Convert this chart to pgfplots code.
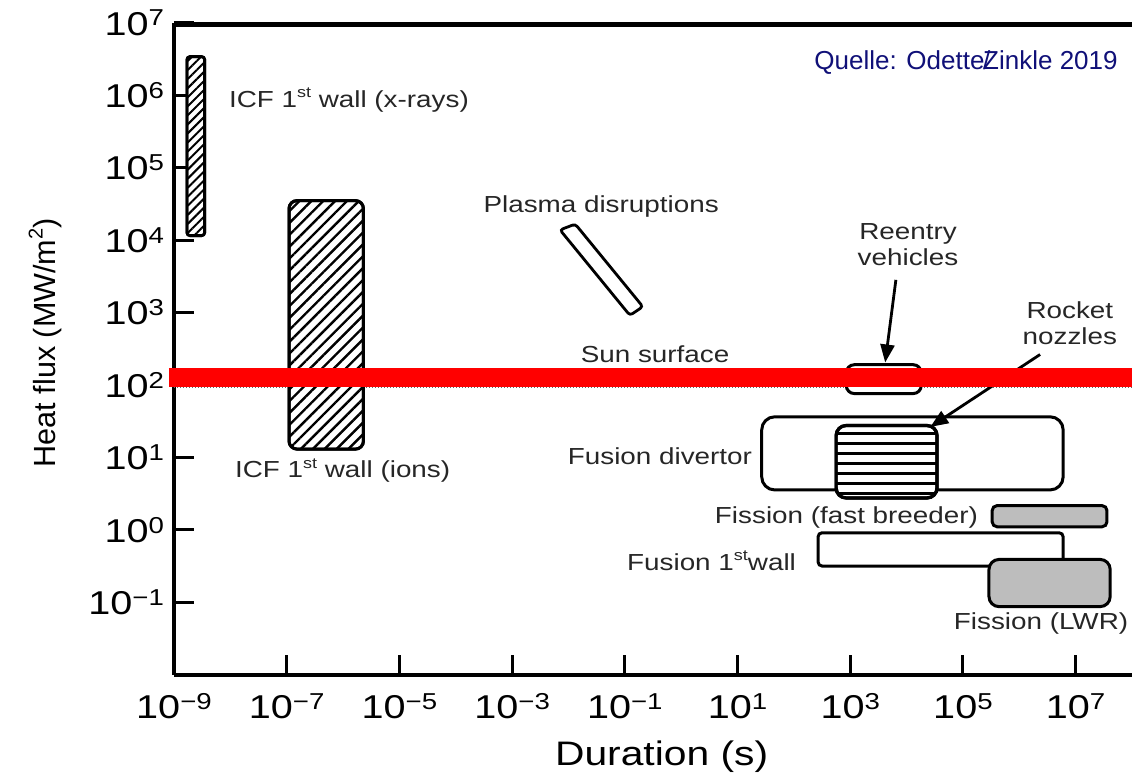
\documentclass[border=0pt]{standalone}
\usepackage{fontspec}
\setmainfont{Liberation Sans}[FakeStretch=1.2]
\newfontfamily\plainfont{Liberation Sans}
\usepackage{pgfplots}
\pgfplotsset{compat=1.18}
\usetikzlibrary{patterns.meta,arrows.meta}
\definecolor{fillgray}{RGB}{189,189,189}
\definecolor{quelle}{RGB}{16,16,120}
\newcommand\tsup[1]{\raisebox{0.28em}{\fontsize{11.5}{10}\selectfont #1}}
\newcommand\lsup[1]{\raisebox{0.42em}{\fontsize{7.5}{8}\selectfont #1}}
\newcommand\lab{\fontsize{11.6}{13}\selectfont\color{black!85}}
\begin{document}
\begin{tikzpicture}
\begin{axis}[
  name=ax,
  scale only axis, width=479pt, height=326pt,
  xmode=log, ymode=log,
  xmin=1e-9, xmax=1e8, ymin=1e-2, ymax=1e7,
  axis x line*=bottom, axis y line*=left,
  axis line style={line width=2pt,-},
  x axis line style={-}, y axis line style={-},
  xtick={1e-9,1e-7,1e-5,1e-3,1e-1,1e1,1e3,1e5,1e7},
  xticklabels={10\tsup{−9},10\tsup{−7},10\tsup{−5},10\tsup{−3},10\tsup{−1},10\tsup{1},10\tsup{3},10\tsup{5},10\tsup{7}},
  ytick={1e-1,1,10,100,1e3,1e4,1e5,1e6,1e7},
  yticklabels={10\tsup{−1},10\tsup{0},10\tsup{1},10\tsup{2},10\tsup{3},10\tsup{4},10\tsup{5},10\tsup{6},10\tsup{7}},
  minor x tick style={draw=none}, minor y tick style={draw=none},
  xtick pos=bottom, ytick pos=left,
  tick align=inside,
  major tick length=10pt,
  major tick style={black, line width=1.5pt},
  xticklabel style={font=\fontsize{16.5}{18}\selectfont, anchor=base, yshift=-22pt},
  yticklabel style={font=\fontsize{16.5}{18}\selectfont, anchor=east, xshift=-1.5pt},
  xlabel={Duration (s)},
  xlabel style={font=\fontsize{17}{20}\selectfont, at={(axis description cs:0.509,-0.1396)}, anchor=base},
  ylabel={\plainfont Heat flux (MW/m\raisebox{0.42em}{\fontsize{10}{10}\selectfont 2})},
  ylabel style={font=\fontsize{15.3}{18}\selectfont, at={(axis description cs:-0.1237,0.509)}, anchor=base},
  clip=false, no markers,
]
% dotted reference line under the red band
\addplot[black!60, densely dotted, line width=0.5pt] coordinates {(1e-9,92) (1e8,92)};
% ICF 1st wall (x-rays)
\addplot[draw=black, line width=1.4pt, rounded corners=1.5pt, fill=white,
  postaction={pattern={Lines[angle=45,distance=3.2pt,line width=1pt]}}]
  coordinates {(1.7e-9,1.15e4) (3.5e-9,1.15e4) (3.5e-9,3.4e6) (1.7e-9,3.4e6)} -- cycle;
% ICF 1st wall (ions)
\addplot[draw=black, line width=1.5pt, rounded corners=4pt, fill=white,
  postaction={pattern={Lines[angle=45,distance=4.2pt,line width=1.2pt]}}]
  coordinates {(1.1e-7,13) (2.3e-6,13) (2.3e-6,3.5e4) (1.1e-7,3.5e4)} -- cycle;
% Plasma disruptions
\addplot[draw=black, line width=1.4pt, rounded corners=1.5pt, fill=white]
  coordinates {(7.08e-3,1.38e4) (1.32e-2,1.66e4) (0.209,1202) (0.123,912)} -- cycle;
% Reentry vehicles
\addplot[draw=black, line width=1.5pt, rounded corners=4pt, fill=white]
  coordinates {(851,76) (1.82e4,76) (1.82e4,190) (851,190)} -- cycle;
% Fusion divertor
\addplot[draw=black, line width=1.5pt, rounded corners=6.5pt, fill=white]
  coordinates {(26.9,3.55) (6.0e6,3.55) (6.0e6,36.3) (26.9,36.3)} -- cycle;
% Rocket nozzles
\addplot[draw=black, line width=1.6pt, rounded corners=5pt, fill=white,
  postaction={pattern={Lines[angle=0,distance=5pt,line width=1.6pt]}}]
  coordinates {(562,2.75) (3.47e4,2.75) (3.47e4,27.5) (562,27.5)} -- cycle;
% Fission (fast breeder)
\addplot[draw=black, line width=1.5pt, rounded corners=2.5pt, fill=fillgray]
  coordinates {(3.3e5,1.1) (3.6e7,1.1) (3.6e7,2.16) (3.3e5,2.16)} -- cycle;
% Fusion 1st wall
\addplot[draw=black, line width=1.5pt, rounded corners=2pt, fill=white]
  coordinates {(269,0.316) (6.0e6,0.316) (6.0e6,0.91) (269,0.91)} -- cycle;
% Fission (LWR)
\addplot[draw=black, line width=1.5pt, rounded corners=5pt, fill=fillgray]
  coordinates {(2.9e5,0.087) (4.1e7,0.087) (4.1e7,0.39) (2.9e5,0.39)} -- cycle;
% arrows
\draw[line width=1.4pt, -{Triangle[length=9pt,width=7pt]}] (axis cs:6.46e3,2818) -- (axis cs:4.17e3,204);
\draw[line width=1.4pt, -{Triangle[length=9pt,width=7pt]}] (axis cs:2.34e6,263) -- (axis cs:2.63e4,26.3);
% red band
\addplot[red, line width=9.5pt] coordinates {(8.15e-10,128) (1e8,128)};
% labels
\node[font=\lab, anchor=west] at (axis cs:7.1e-9,8.6e5) {ICF 1\lsup{st} wall (x-rays)};
\node[font=\lab, anchor=west] at (axis cs:9.1e-9,6.55) {ICF 1\lsup{st} wall (ions)};
\node[font=\lab] at (axis cs:0.038,2.87e4) {Plasma disruptions};
\node[font=\lab] at (axis cs:0.344,269) {Sun surface};
\node[font=\lab, align=center] at (axis cs:1.06e4,8590) {Reentry\\vehicles};
\node[font=\lab, align=center] at (axis cs:7.9e6,721) {Rocket\\nozzles};
\node[font=\lab] at (axis cs:0.42,10.5) {Fusion divertor};
\node[font=\lab, anchor=east] at (axis cs:2.47e5,1.47) {Fission (fast breeder)};
\node[font=\lab, anchor=east] at (axis cs:145,0.376) {Fusion 1\lsup{st}wall};
\node[font=\lab] at (axis cs:2.43e6,0.0508) {Fission (LWR)};
\node[font=\plainfont\fontsize{13}{15}\selectfont, text=quelle] at (axis cs:1.135e5,2.78e6) {Quelle: Odette\kern-0.05em\rlap{/}Zinkle 2019};
\end{axis}
\fill[black] ([yshift=-2pt]ax.north west) rectangle ([yshift=0.2pt]ax.north east);
\pgfresetboundingbox
\path[use as bounding box] ([xshift=-87pt,yshift=-49.5pt]ax.south west) rectangle ([yshift=11.35pt]ax.north east);
\end{tikzpicture}
\end{document}
